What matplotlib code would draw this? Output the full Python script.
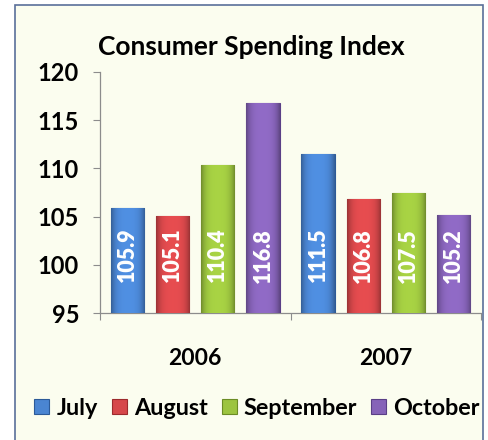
import numpy as np
import matplotlib
matplotlib.use("Agg")
from matplotlib import pyplot as plt
from matplotlib.patches import Rectangle
from matplotlib import colors as mcolors

plt.rcParams['font.family'] = ['Lato', 'DejaVu Sans']

years = ['2006', '2007']
months = ['July', 'August', 'September', 'October']
july = [105.9, 111.5]
august = [105.1, 106.8]
september = [110.4, 107.5]
october = [116.8, 105.2]

bar_colors = ['#4a85d2', '#d6474a', '#9cc43f', '#8663b8']
edge_colors = ['#2c5a98', '#9c2a2d', '#6b8c25', '#5a3f86']

BG = '#fbfdef'


def shade_bar(ax, bar, color):
    # horizontal gradient: dark edges, lighter middle
    x0, y0 = bar.get_x(), bar.get_y()
    w, h = bar.get_width(), bar.get_height()
    base = np.array(mcolors.to_rgb(color))
    t = np.linspace(-1, 1, 64)
    k = 1 - 0.28 * t ** 4 + 0.08 * (1 - t ** 2)
    row = np.clip(base[None, :] * k[:, None], 0, 1)
    img = np.repeat(row[None, :, :], 2, axis=0)
    im = ax.imshow(img, extent=(x0, x0 + w, y0, y0 + h), aspect='auto',
                   origin='lower', zorder=bar.get_zorder() + 0.1)
    im.set_clip_path(bar)


fig = plt.figure(figsize=(4.88, 4.40), dpi=100)
fig.patch.set_facecolor('white')
fig.patches.append(Rectangle((15 / 488, -0.01), 468 / 488, 1 - 5 / 440 + 0.01,
                             transform=fig.transFigure, facecolor=BG,
                             edgecolor='#5a6f9a', linewidth=1.2, zorder=-5))

ax = fig.add_axes([100 / 488, 1 - 313 / 440, 381 / 488, 241 / 440])
ax.set_facecolor('none')

series = [july, august, september, october]
x = np.arange(len(years))
pitch = 0.237
width = 0.174
for i, (vals, name) in enumerate(zip(series, months)):
    pos = x + (i - 1.5) * pitch
    bars = ax.bar(pos, np.array(vals) - 95, bottom=95, width=width,
                  color=bar_colors[i], edgecolor=edge_colors[i], linewidth=0.8,
                  label=name, zorder=3)
    for b, v in zip(bars, vals):
        shade_bar(ax, b, bar_colors[i])
        ax.text(b.get_x() + b.get_width() / 2, 101.0, f'{v:.1f}', rotation=90,
                ha='center', va='center', color='white', fontsize=15.5,
                fontweight='heavy', zorder=5)

ax.set_xlim(-0.5, 1.5)
ax.set_ylim(95, 120)
ax.set_yticks([95, 100, 105, 110, 115, 120])
ax.set_xticks([-0.5, 0.5, 1.5])
ax.set_xticklabels([])
ax.set_xticks(x, minor=True)
ax.set_xticklabels(years, minor=True)
ax.tick_params(axis='x', which='minor', length=0, pad=25, labelsize=16.5)
ax.tick_params(axis='x', which='major', length=5, color='#8c8c8c')
ax.tick_params(axis='y', length=5, color='#8c8c8c', pad=10, labelsize=17)
for lab in ax.get_xticklabels(minor=True) + ax.get_yticklabels():
    lab.set_fontweight('bold')

for s in ['top', 'right']:
    ax.spines[s].set_visible(False)
for s in ['left', 'bottom']:
    ax.spines[s].set_color('#8c8c8c')
    ax.spines[s].set_linewidth(0.9)

fig.text(251 / 488, 1 - 47 / 440, 'Consumer Spending Index', ha='center',
         va='center', fontsize=19, fontweight='bold')

leg = fig.legend(loc='center', bbox_to_anchor=(257 / 488, 1 - 408 / 440), ncol=4,
                 frameon=False, handlelength=0.65, handleheight=0.65,
                 handletextpad=0.3, columnspacing=0.6, borderaxespad=0,
                 prop={'weight': 'bold', 'size': 16.8})

fig.savefig('out.png', dpi=100, facecolor=fig.get_facecolor())
